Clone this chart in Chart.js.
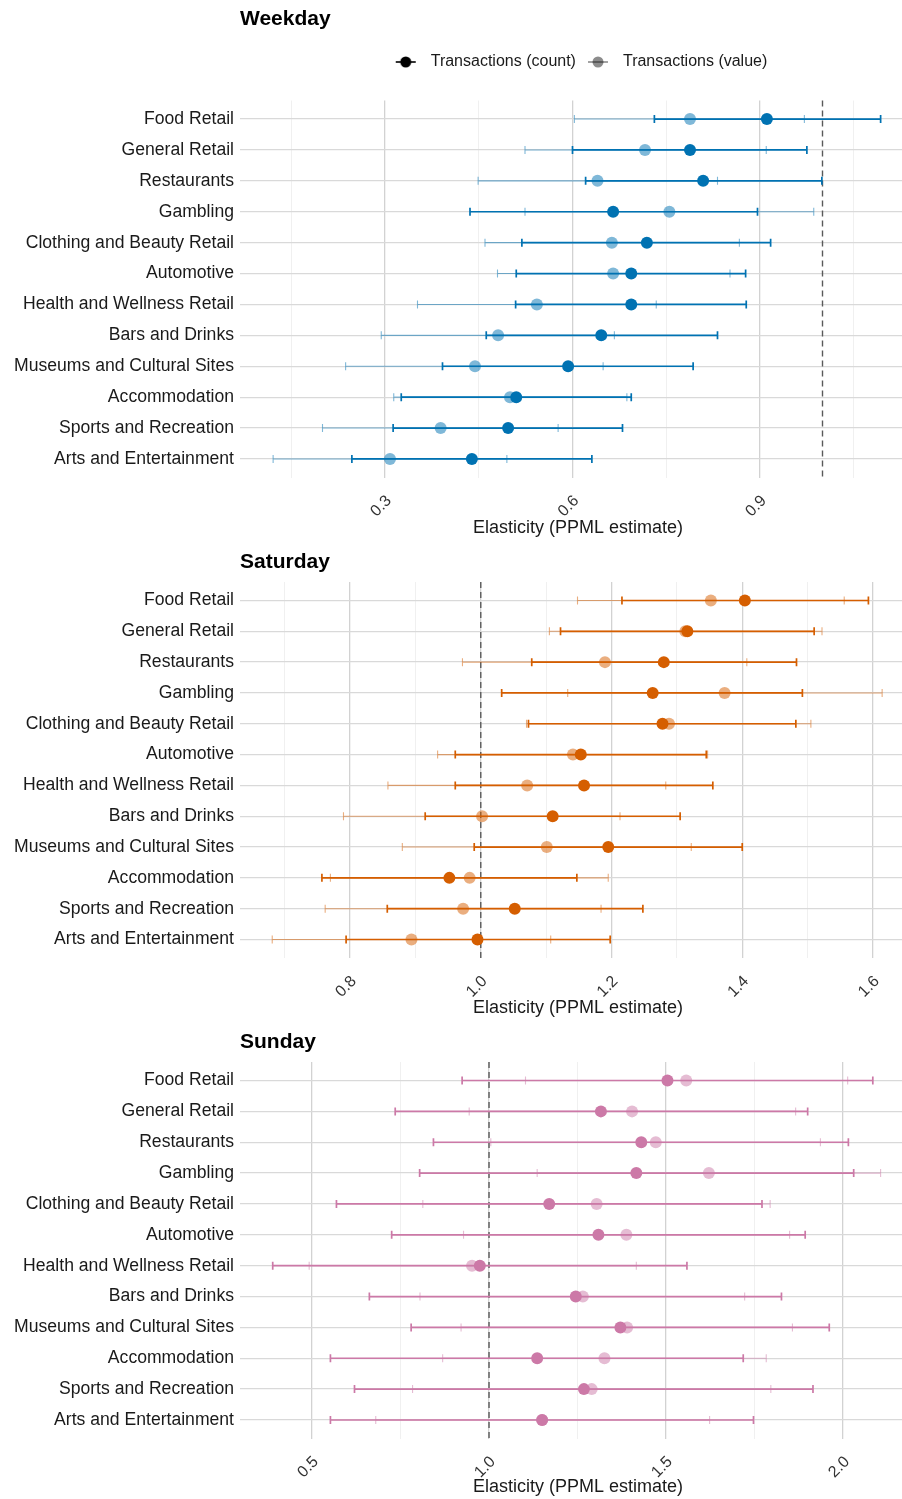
<!DOCTYPE html>
<html>
<head>
<meta charset="utf-8">
<script src="https://cdn.jsdelivr.net/npm/chart.js@4"></script>
<style>
  html, body { margin: 0; background: #fff; overflow: hidden; }
  .panel { position: absolute; left: 0; width: 902px; overflow: hidden; }
</style>
</head>
<body>
<div class="panel" style="top:0px;height:540px"><canvas id="weekday" width="916" height="540"></canvas></div>
<div class="panel" style="top:540px;height:480px"><canvas id="saturday" width="916" height="480"></canvas></div>
<div class="panel" style="top:1020px;height:479px"><canvas id="sunday" width="916" height="479"></canvas></div>
<script>
// categories, top to bottom
const categories = [
    "Food Retail", "General Retail", "Restaurants", "Gambling",
    "Clothing and Beauty Retail", "Automotive", "Health and Wellness Retail",
    "Bars and Drinks", "Museums and Cultural Sites", "Accommodation",
    "Sports and Recreation", "Arts and Entertainment",
];

// Weekday
const weekdayCountEst = [0.911, 0.788, 0.809, 0.665, 0.719, 0.694, 0.694, 0.646, 0.593, 0.510, 0.497, 0.439];
const weekdayCountLo  = [0.731, 0.600, 0.621, 0.436, 0.519, 0.510, 0.509, 0.462, 0.392, 0.326, 0.313, 0.247];
const weekdayCountHi  = [1.093, 0.975, 0.999, 0.896, 0.917, 0.877, 0.878, 0.832, 0.793, 0.694, 0.680, 0.631];
const weekdayValueEst = [0.788, 0.716, 0.640, 0.755, 0.663, 0.665, 0.543, 0.481, 0.444, 0.500, 0.389, 0.308];
const weekdayValueLo  = [0.603, 0.524, 0.449, 0.524, 0.460, 0.480, 0.352, 0.294, 0.237, 0.314, 0.200, 0.121];
const weekdayValueHi  = [0.971, 0.910, 0.832, 0.986, 0.867, 0.852, 0.734, 0.667, 0.649, 0.687, 0.577, 0.495];

// Saturday
const saturdayCountEst = [1.404, 1.316, 1.280, 1.263, 1.278, 1.153, 1.158, 1.110, 1.195, 0.952, 1.052, 0.995];
const saturdayCountLo  = [1.216, 1.122, 1.078, 1.032, 1.073, 0.961, 0.961, 0.915, 0.990, 0.757, 0.857, 0.794];
const saturdayCountHi  = [1.593, 1.510, 1.483, 1.492, 1.482, 1.345, 1.355, 1.305, 1.400, 1.147, 1.248, 1.198];
const saturdayValueEst = [1.352, 1.313, 1.190, 1.373, 1.288, 1.141, 1.071, 1.002, 1.101, 0.983, 0.973, 0.894];
const saturdayValueLo  = [1.148, 1.105, 0.972, 1.133, 1.070, 0.934, 0.858, 0.790, 0.880, 0.770, 0.762, 0.681];
const saturdayValueHi  = [1.556, 1.522, 1.407, 1.614, 1.505, 1.347, 1.283, 1.213, 1.322, 1.195, 1.184, 1.107];

// Sunday
const sundayCountEst = [1.504, 1.316, 1.430, 1.416, 1.170, 1.309, 0.974, 1.245, 1.371, 1.136, 1.268, 1.150];
const sundayCountLo  = [0.924, 0.735, 0.843, 0.804, 0.569, 0.725, 0.389, 0.662, 0.780, 0.552, 0.620, 0.552];
const sundayCountHi  = [2.084, 1.900, 2.015, 2.030, 1.771, 1.893, 1.559, 1.826, 1.961, 1.718, 1.915, 1.747];
const sundayValueEst = [1.557, 1.404, 1.471, 1.621, 1.304, 1.388, 0.952, 1.265, 1.390, 1.326, 1.290, 1.150];
const sundayValueLo  = [1.103, 0.944, 1.005, 1.136, 0.813, 0.928, 0.492, 0.805, 0.921, 0.869, 0.784, 0.680];
const sundayValueHi  = [2.013, 1.866, 1.936, 2.106, 1.794, 1.849, 1.416, 1.722, 1.857, 1.783, 1.796, 1.623];

// x axis ticks
const weekdayTicks = [0.3, 0.6, 0.9];
const weekdayTickLabels = ["0.3", "0.6", "0.9"];
const weekdayMinor = [0.15, 0.45, 0.75, 1.05];
const saturdayTicks = [0.8, 1.0, 1.2, 1.4, 1.6];
const saturdayTickLabels = ["0.8", "1.0", "1.2", "1.4", "1.6"];
const saturdayMinor = [0.7, 0.9, 1.1, 1.3, 1.5];
const sundayTicks = [0.5, 1.0, 1.5, 2.0];
const sundayTickLabels = ["0.5", "1.0", "1.5", "2.0"];
const sundayMinor = [0.75, 1.25, 1.75];

const FONT = "'Liberation Sans', Arial, Helvetica, sans-serif";
Chart.defaults.font.family = FONT;

function withAlpha(hex, a) {
    const n = parseInt(hex.slice(1), 16);
    return `rgba(${(n >> 16) & 255},${(n >> 8) & 255},${n & 255},${a})`;
}

// small line + dot glyph for the legend
function legendGlyph(colour) {
    const c = document.createElement("canvas");
    c.width = 22; c.height = 14;
    const g = c.getContext("2d");
    g.strokeStyle = colour; g.lineWidth = 1.6;
    g.beginPath(); g.moveTo(1, 7); g.lineTo(21, 7); g.stroke();
    g.fillStyle = colour;
    g.beginPath(); g.arc(11, 7, 5.5, 0, Math.PI * 2); g.fill();
    return c;
}

// horizontal CIs + dashed reference line, drawn under the points
const errorBars = {
    id: "errorBars",
    beforeDatasetsDraw(chart, args, opts) {
        const { ctx, chartArea, scales: { x, y } } = chart;
        ctx.save();
        const rx = x.getPixelForValue(opts.ref);
        ctx.strokeStyle = "#5a5a5a";
        ctx.lineWidth = 1.4;
        ctx.setLineDash([6, 4]);
        ctx.beginPath(); ctx.moveTo(rx, chartArea.top); ctx.lineTo(rx, chartArea.bottom); ctx.stroke();
        ctx.setLineDash([]);
        const sets = chart.data.datasets;
        for (let d = sets.length - 1; d >= 0; d--) {
            const ds = sets[d];
            ctx.strokeStyle = ds.barColour;
            ctx.lineWidth = ds.barWidth;
            ds.lo.forEach((lo, i) => {
                const py = y.getPixelForValue(i + 1);
                const x1 = x.getPixelForValue(lo);
                const x2 = x.getPixelForValue(ds.hi[i]);
                ctx.beginPath();
                ctx.moveTo(x1, py); ctx.lineTo(x2, py);
                ctx.moveTo(x1, py - 4); ctx.lineTo(x1, py + 4);
                ctx.moveTo(x2, py - 4); ctx.lineTo(x2, py + 4);
                ctx.stroke();
            });
        }
        ctx.restore();
    },
};

function makePanel(id, title, colour, count, value, axis, showLegend) {
    const near = (a, b) => Math.abs(a - b) < 1e-9;
    const isMajor = (v) => axis.ticks.some((t) => near(t, v));
    const toPoints = (arr) => arr.map((v, i) => ({ x: v, y: i + 1 }));

    return new Chart(document.getElementById(id), {
        type: "scatter",
        data: {
            datasets: [
                {
                    label: "Transactions (count)",
                    data: toPoints(count.est),
                    lo: count.lo, hi: count.hi,
                    barColour: colour, barWidth: 1.7,
                    backgroundColor: colour,
                    borderWidth: 0,
                    pointRadius: 6,
                    order: 0,
                },
                {
                    label: "Transactions (value)",
                    data: toPoints(value.est),
                    lo: value.lo, hi: value.hi,
                    barColour: withAlpha(colour, 0.5), barWidth: 1.1,
                    backgroundColor: withAlpha(colour, 0.5),
                    borderWidth: 0,
                    pointRadius: 6,
                    order: 1,
                },
            ],
        },
        options: {
            responsive: false,
            animation: false,
            layout: { padding: 0, autoPadding: false },
            scales: {
                x: {
                    type: "linear",
                    min: axis.min,
                    max: axis.max,
                    afterBuildTicks: (s) => {
                        s.ticks = [...axis.ticks, ...axis.minor].sort((a, b) => a - b).map((v) => ({ value: v }));
                    },
                    afterFit: (s) => {
                        s.height = axis.height;
                        s.paddingLeft = 0;
                        s.paddingRight = 0;
                    },
                    ticks: {
                        autoSkip: false,
                        minRotation: 45,
                        maxRotation: 45,
                        padding: 14,
                        labelOffset: 4,
                        color: "#333",
                        font: { size: 16 },
                        callback: (v) => {
                            const k = axis.ticks.findIndex((t) => near(t, v));
                            return k >= 0 ? axis.labels[k] : "";
                        },
                    },
                    grid: {
                        drawTicks: false,
                        color: (c) => (c.tick && isMajor(c.tick.value) ? "#d2d2d2" : "#ececec"),
                        lineWidth: (c) => (c.tick && isMajor(c.tick.value) ? 1.3 : 0.8),
                    },
                    border: { display: false },
                    title: {
                        display: true,
                        text: "Elasticity (PPML estimate)",
                        color: "#1a1a1a",
                        font: { size: 18 },
                        padding: { top: 0, bottom: 1 },
                    },
                },
                y: {
                    type: "linear",
                    reverse: true,
                    min: 0.4,
                    max: 12.6,
                    afterBuildTicks: (s) => {
                        s.ticks = categories.map((c, i) => ({ value: i + 1 }));
                    },
                    afterFit: (s) => { s.width = 240; },
                    ticks: {
                        autoSkip: false,
                        padding: 6,
                        color: "#1a1a1a",
                        font: { size: 17.6 },
                        callback: (v) => categories[Math.round(v) - 1],
                    },
                    grid: { drawTicks: false, color: "#d9d9d9", lineWidth: 1.3 },
                    border: { display: false },
                },
            },
            plugins: {
                errorBars: { ref: 1 },
                tooltip: { enabled: false },
                title: {
                    display: true,
                    text: title,
                    align: "start",
                    fullSize: false,
                    color: "#000",
                    font: { size: 21, weight: "bold" },
                    padding: showLegend ? { top: 7, bottom: 16.8 } : { top: 9.4, bottom: 7.4 },
                },
                // spacer between legend and panel
                subtitle: {
                    display: showLegend,
                    text: "",
                    weight: 500,
                    fullSize: false,
                    font: { size: 1, lineHeight: 1 },
                    padding: { top: 19.5, bottom: 0 },
                },
                legend: {
                    display: showLegend,
                    position: "top",
                    fullSize: false,
                    labels: {
                        usePointStyle: true,
                        pointStyleWidth: 34,
                        padding: 5,
                        color: "#1a1a1a",
                        font: { size: 16 },
                        generateLabels: (chart) => {
                            const items = Chart.defaults.plugins.legend.labels.generateLabels(chart);
                            items[0].pointStyle = legendGlyph("#000");
                            items[1].pointStyle = legendGlyph("rgba(0,0,0,0.45)");
                            return items;
                        },
                    },
                },
            },
        },
        plugins: [errorBars],
    });
}

makePanel("weekday", "Weekday", "#0072B2",
    { est: weekdayCountEst, lo: weekdayCountLo, hi: weekdayCountHi },
    { est: weekdayValueEst, lo: weekdayValueLo, hi: weekdayValueHi },
    { min: 0.068, max: 1.1496, ticks: weekdayTicks, labels: weekdayTickLabels, minor: weekdayMinor, height: 62.5 },
    true);

makePanel("saturday", "Saturday", "#D55E00",
    { est: saturdayCountEst, lo: saturdayCountLo, hi: saturdayCountHi },
    { est: saturdayValueEst, lo: saturdayValueLo, hi: saturdayValueHi },
    { min: 0.6317, max: 1.6658, ticks: saturdayTicks, labels: saturdayTickLabels, minor: saturdayMinor, height: 62 },
    false);

makePanel("sunday", "Sunday", "#CC79A7",
    { est: sundayCountEst, lo: sundayCountLo, hi: sundayCountHi },
    { est: sundayValueEst, lo: sundayValueLo, hi: sundayValueHi },
    { min: 0.2966, max: 2.206, ticks: sundayTicks, labels: sundayTickLabels, minor: sundayMinor, height: 60.5 },
    false);
</script>
</body>
</html>
